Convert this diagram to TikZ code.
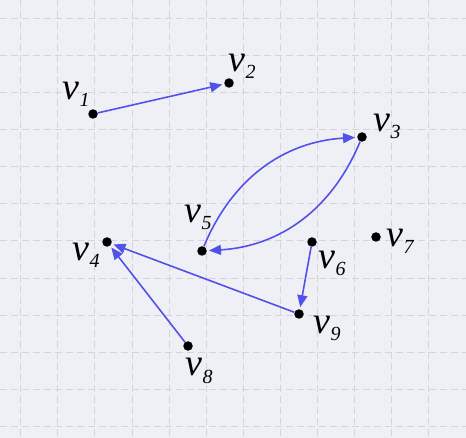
\documentclass[tikz,border=0pt]{standalone}
\usepackage{fontspec}
\setmainfont{Liberation Serif}
\usetikzlibrary{arrows.meta}

\definecolor{bgcol}{RGB}{239,240,245}
\definecolor{gridcol}{RGB}{212,212,218}
\definecolor{edgeblue}{RGB}{82,82,232}

% vertex name: italic v with a lowered italic index
\newcommand{\vlab}[1]{\textit{v}\kern0.5pt\raisebox{-7pt}{\fontsize{20}{20}\selectfont\textit{#1}}}

\begin{document}
\begin{tikzpicture}[x=1pt,y=-1pt,
    vtx/.style={circle,fill=black,inner sep=0pt,minimum size=9.5pt},
    lbl/.style={anchor=base west,inner sep=0pt,font=\fontsize{38}{40}\selectfont},
    edge/.style={edgeblue,line width=1.6pt,-{Triangle[length=12pt,width=10pt]},shorten >=2pt}]

    % Background and grid
    \fill[bgcol] (0,0) rectangle (466,438);
    \useasboundingbox (0,0) rectangle (466,438);
    \foreach \k in {0,...,11} {
        \draw[gridcol,line width=0.9pt,dash pattern=on 7pt off 4pt] (20.7+37.1*\k,0) -- (20.7+37.1*\k,438);
        \draw[gridcol,line width=0.9pt,dash pattern=on 7pt off 4pt] (0,18.3+37.1*\k) -- (466,18.3+37.1*\k);
    }

    % Vertices
    \node[vtx] (v1) at (93,114) {};
    \node[vtx] (v2) at (229,83) {};
    \node[vtx] (v3) at (362,137) {};
    \node[vtx] (v4) at (107,242) {};
    \node[vtx] (v5) at (202,251) {};
    \node[vtx] (v6) at (312,242) {};
    \node[vtx] (v7) at (376,237) {};
    \node[vtx] (v8) at (188,346) {};
    \node[vtx] (v9) at (299,314) {};

    % Labels
    \node[lbl] (l1) at (62,100) {\vlab{1}};
    \node[lbl] (l2) at (228,72) {\vlab{2}};
    \node[lbl] (l3) at (373,132) {\vlab{3}};
    \node[lbl] (l4) at (72,261) {\vlab{4}};
    \node[lbl] (l5) at (184,223) {\vlab{5}};
    \node[lbl] (l6) at (318,269) {\vlab{6}};
    \node[lbl] (l7) at (386,247) {\vlab{7}};
    \node[lbl] (l8) at (185,376) {\vlab{8}};
    \node[lbl] (l9) at (313,334) {\vlab{9}};

    % Arcs
    \draw[edge] (v1) -- (v2);
    \draw[edge] (v5) to[bend left=32] (v3);
    \draw[edge] (v3) to[bend left=32] (v5);
    \draw[edge] (v6) -- (v9);
    \draw[edge] (v9) -- (v4);
    \draw[edge] (v8) -- (v4);
\end{tikzpicture}
\end{document}
